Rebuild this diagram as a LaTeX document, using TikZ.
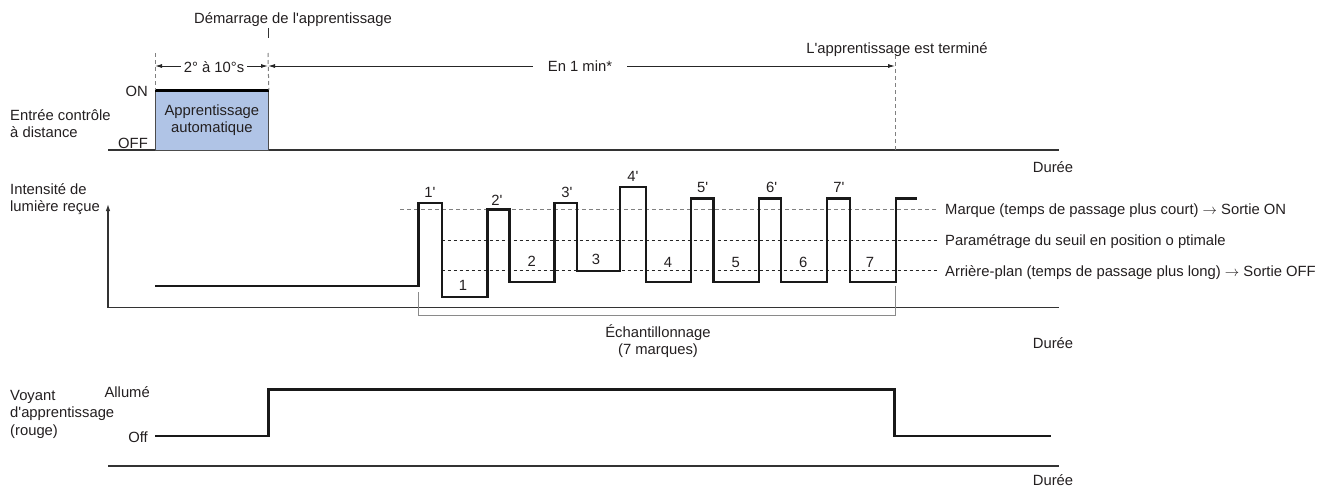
\documentclass[tikz,border=0pt]{standalone}
\usepackage{fontspec}
\setmainfont{Liberation Sans}
\usetikzlibrary{arrows.meta}
\definecolor{txt}{HTML}{231F20}
\definecolor{boxblue}{HTML}{B0C4E6}
\definecolor{dashgray}{HTML}{808080}
\definecolor{brgray}{HTML}{8A8A8A}
\newcommand{\q}{\textquotesingle}
\begin{document}
\begin{tikzpicture}[x=1pt,y=-1pt,
  every node/.style={font=\fontsize{14.8}{17.5}\selectfont, text=txt, inner sep=0pt},
  lbl/.style={text height=10.6pt, text depth=0pt},
  multi/.style={align=left, anchor=west},
  signal/.style={line width=2.4pt, draw=black!90, line join=miter},
  axisline/.style={line width=1.4pt, draw=black!80},
  vdash/.style={draw=dashgray, line width=1pt, dash pattern=on 4pt off 3pt},
  markdash/.style={draw=dashgray, line width=1.1pt, dash pattern=on 4pt off 3pt},
  thrdash/.style={draw=black!85, line width=0.9pt, dash pattern=on 3pt off 3pt},
  bracketline/.style={draw=brgray, line width=1pt},
  dim/.style={draw=black!85, line width=0.9pt, {Latex[length=7pt,width=4pt]}-{Latex[length=7pt,width=4pt]}},
  gaplabel/.style={lbl, fill=white}
]
\useasboundingbox (0,0) rectangle (1333,488);

% ---------------- Section 1 ----------------
\node[lbl] (dem) at (293,18) {Démarrage de l\q apprentissage};
\coordinate (tickA) at (268,28);
\coordinate (tickB) at (268,38);
\draw[line width=0.8pt, draw=black!80] (tickA) -- (tickB);

\node[lbl] (fin) at (897,48) {L\q apprentissage est terminé};

\coordinate (ax1s) at (108,150);
\coordinate (ax1e) at (1059,150);
\draw[axisline] (ax1s) -- (ax1e);
\node[lbl] (dur1) at (1053,167) {Durée};

\node[draw=black!70, line width=0.8pt, fill=boxblue, minimum width=113pt, minimum height=60pt,
      anchor=north west, align=center] (box) at (155,90) {Apprentissage\\automatique};
\draw[line width=3pt, draw=black] (box.north west) -- (box.north east);

\coordinate (d1top) at (155,53);
\coordinate (d2top) at (268,53);
\coordinate (d3top) at (895,55);
\coordinate (d3bot) at (895,150);
\draw[vdash] (d1top) -- (box.north west);
\draw[vdash] (d2top) -- (box.north east);
\draw[vdash] (d3top) -- (d3bot);

\coordinate (ar1a) at (155,66);
\coordinate (ar1b) at (268,66);
\coordinate (ar2b) at (895,66);
\draw[dim] (ar1a) -- (ar1b);
\draw[dim] (ar1b) -- (ar2b);
\node[gaplabel, inner xsep=3pt] (t1) at (214,67) {2° à 10°s};
\node[gaplabel, inner xsep=15pt] (t2) at (580,66) {En 1 min*};

\node[lbl, anchor=east] (on) at (148,91) {ON};
\node[lbl, anchor=east] (off) at (148,143) {OFF};
\node[multi] (lab1) at (10,123.5) {Entrée contrôle\\à distance};

% ---------------- Section 2 ----------------
\node[multi] (lab2) at (10,199) {Intensité de\\lumière reçue};
\coordinate (o2) at (108,307.7);
\coordinate (y2) at (108,204);
\coordinate (ax2e) at (1059,307.7);
\draw[line width=1.2pt, draw=black!80, -{Latex[length=7pt,width=4.5pt]}] (o2) -- (y2);
\draw[axisline] (o2) -- (ax2e);
\node[lbl] (dur2) at (1053,343) {Durée};

\coordinate (mk1) at (400,209.3);   \coordinate (mk2) at (938,209.3);
\coordinate (th1) at (441.7,240.3); \coordinate (th2) at (938,240.3);
\coordinate (bg1) at (441.7,270.7); \coordinate (bg2) at (938,270.7);
\draw[markdash] (mk1) -- (mk2);
\draw[thrdash] (th1) -- (th2);
\draw[thrdash] (bg1) -- (bg2);
\node[lbl, anchor=west] (lm) at (945,209.3) {Marque (temps de passage plus court) $\rightarrow$ Sortie ON};
\node[lbl, anchor=west] (lt) at (945,240.3) {Paramétrage du seuil en position o ptimale};
\node[lbl, anchor=west] (lb) at (945,270.7) {Arrière-plan (temps de passage plus long) $\rightarrow$ Sortie OFF};

\draw[signal] (155,285.7) -- (418.3,285.7) -- (418.3,203) -- (441.7,203) -- (441.7,297)
  -- (487.3,297) -- (487.3,209.3) -- (509.3,209.3) -- (509.3,281.7) -- (554.3,281.7)
  -- (554.3,203) -- (576.7,203) -- (576.7,270.7) -- (620,270.7) -- (620,187) -- (646,187)
  -- (646,281.7) -- (691,281.7) -- (691,198.3) -- (713.3,198.3) -- (713.3,281.7)
  -- (759,281.7) -- (759,198.3) -- (780.7,198.3) -- (780.7,281.7) -- (826.7,281.7)
  -- (826.7,198.3) -- (850,198.3) -- (850,281.7) -- (895.7,281.7) -- (895.7,198.3)
  -- (917.3,198.3);

\node[lbl] (p1) at (430,191.7) {1\q};
\node[lbl] (n1) at (463,285) {1};
\node[lbl] (p2) at (497,200) {2\q};
\node[lbl] (n2) at (531.7,261) {2};
\node[lbl] (p3) at (567,191.7) {3\q};
\node[lbl] (n3) at (596,259) {3};
\node[lbl] (p4) at (633,176) {4\q};
\node[lbl] (n4) at (668,261.7) {4};
\node[lbl] (p5) at (702.7,186.7) {5\q};
\node[lbl] (n5) at (735.7,261.7) {5};
\node[lbl] (p6) at (771.7,186.7) {6\q};
\node[lbl] (n6) at (803.3,261.7) {6};
\node[lbl] (p7) at (839,186.7) {7\q};
\node[lbl] (n7) at (870,261.7) {7};

\coordinate (br1) at (418.3,292);
\coordinate (br2) at (895.7,286);
\draw[bracketline] (br1) -- (418.3,315.7) -- (895.7,315.7) -- (br2);
\node[align=center] (ech) at (658,341) {Échantillonnage\\(7 marques)};

% ---------------- Section 3 ----------------
\node[multi] (lab3) at (10,414) {Voyant\\d\q apprentissage\\(rouge)};
\node[lbl, anchor=east] (allume) at (150,392) {Allumé};
\node[lbl, anchor=east] (offl) at (148,437) {Off};
\draw[signal] (155,436) -- (268.3,436) -- (268.3,389.3) -- (894.5,389.3) -- (894.5,436) -- (1051,436);
\coordinate (ax3s) at (108,466);
\coordinate (ax3e) at (1059,466);
\draw[axisline] (ax3s) -- (ax3e);
\node[lbl] (dur3) at (1053,480) {Durée};
\end{tikzpicture}
\end{document}
